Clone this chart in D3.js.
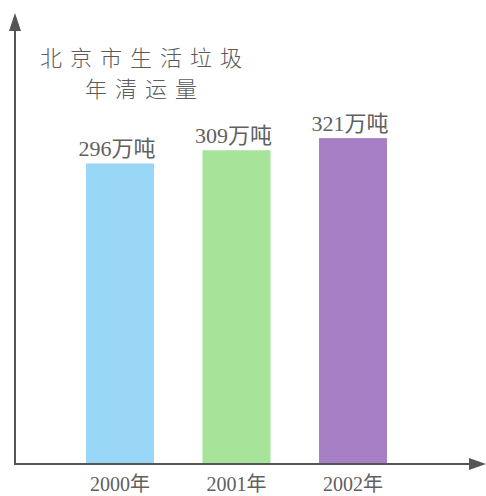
<!DOCTYPE html>
<html>
<head>
<meta charset="utf-8">
<script src="https://cdn.jsdelivr.net/npm/d3@7"></script>
<style>
  body { margin: 0; background: #fff; }
  svg { display: block; }
</style>
</head>
<body>
<div class="mainbody"></div>
<script>
// 数据
var years = ["2000年", "2001年", "2002年"];
var values = [296, 309, 321];
var valueLabels = ["296万吨", "309万吨", "321万吨"];
var colors = ["#9ad6f5", "#a8e39a", "#a77fc4"];
var titleLines = ["北京市生活垃圾", "年清运量"];

var w = 486, h = 496;
var axisX = 15, axisY = 464;

var svg = d3.select(".mainbody")
  .append("svg")
  .attr("width", w)
  .attr("height", h);

var x = d3.scaleBand()
  .domain(years)
  .range([37.5, 435.5])
  .paddingInner(0.416)
  .paddingOuter(0.416);

var y = d3.scaleLinear()
  .domain([0, 457])
  .range([axisY, 0]);

// 柱子
svg.append("g")
  .selectAll("rect")
  .data(values)
  .enter()
  .append("rect")
  .attr("x", (d, i) => x(years[i]))
  .attr("y", d => y(d))
  .attr("width", x.bandwidth())
  .attr("height", d => y(0) - y(d))
  .attr("fill", (d, i) => colors[i]);

// 坐标轴
var axisColor = "#555";
svg.append("line")
  .attr("x1", axisX).attr("y1", axisY)
  .attr("x2", axisX).attr("y2", 26)
  .attr("stroke", axisColor).attr("stroke-width", 2);
svg.append("path")
  .attr("d", "M" + axisX + ",13 L" + (axisX - 6) + ",31 L" + (axisX + 6) + ",31 Z")
  .attr("fill", axisColor);

svg.append("line")
  .attr("x1", axisX - 1).attr("y1", axisY)
  .attr("x2", 474).attr("y2", axisY)
  .attr("stroke", axisColor).attr("stroke-width", 2);
svg.append("path")
  .attr("d", "M486," + axisY + " L469," + (axisY - 6) + " L469," + (axisY + 6) + " Z")
  .attr("fill", axisColor);

// 数值标签
svg.append("g")
  .selectAll("text")
  .data(values)
  .enter()
  .append("text")
  .attr("x", (d, i) => x(years[i]) + x.bandwidth() / 2 - 3)
  .attr("y", d => y(d) - 7)
  .attr("text-anchor", "middle")
  .attr("font-family", "'Liberation Serif', 'Noto Sans CJK SC', serif")
  .attr("font-size", 22)
  .attr("fill", "#606060")
  .text((d, i) => valueLabels[i]);

// 年份标签
svg.append("g")
  .selectAll("text")
  .data(years)
  .enter()
  .append("text")
  .attr("x", d => x(d) + x.bandwidth() / 2)
  .attr("y", 491)
  .attr("text-anchor", "middle")
  .attr("font-family", "'Liberation Serif', 'Noto Sans CJK SC', serif")
  .attr("font-size", 20)
  .attr("fill", "#606060")
  .text(d => d);

// 标题
svg.append("g")
  .selectAll("text")
  .data(titleLines)
  .enter()
  .append("text")
  .attr("x", 145)
  .attr("y", (d, i) => 66 + i * 31)
  .attr("text-anchor", "middle")
  .attr("font-family", "'Noto Sans CJK SC', sans-serif")
  .attr("font-size", 22)
  .attr("font-weight", 300)
  .attr("letter-spacing", 8)
  .attr("fill", "#5a5a5a")
  .text(d => d);
</script>
</body>
</html>
